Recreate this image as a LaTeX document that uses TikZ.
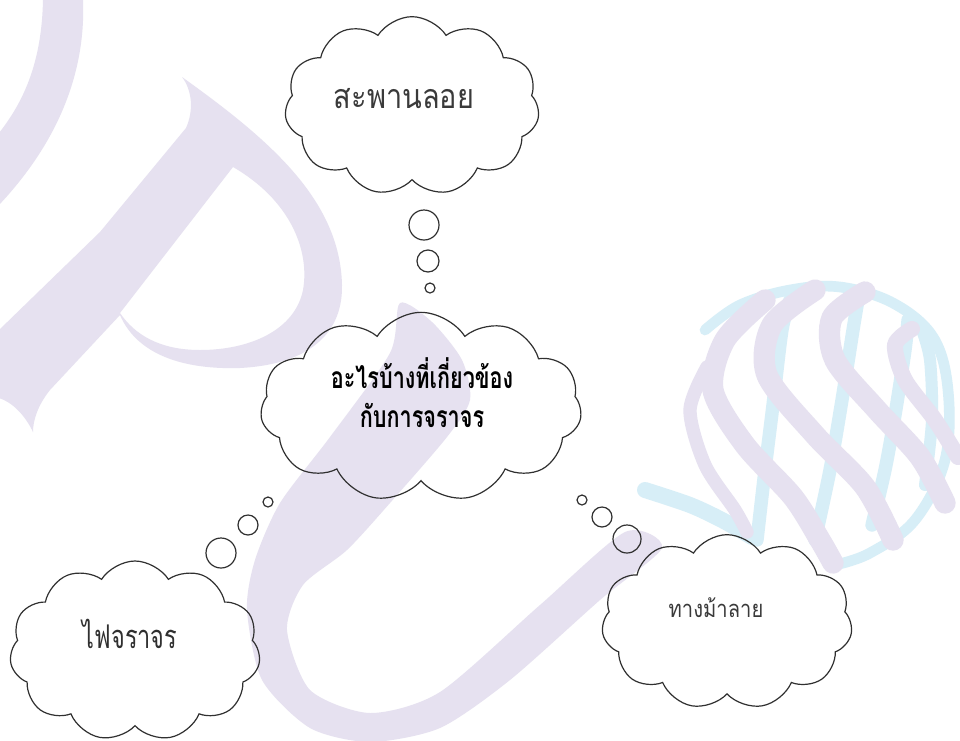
\documentclass[tikz,border=0pt]{standalone}
\usepackage{fontspec}
\usetikzlibrary{shapes.symbols}
\newfontfamily\thaiA[Script=Thai,FakeStretch=0.85]{Loma}
\newfontfamily\thaicond[Script=Thai,FakeStretch=0.72]{Loma}
\definecolor{wmL}{HTML}{E6E1F0}
\definecolor{wmC}{HTML}{D7EEF7}
\definecolor{ink}{HTML}{303030}
\definecolor{txtgrey}{HTML}{3A3A3A}
\begin{document}
\begin{tikzpicture}[x=0.75pt,y=-0.75pt,
  thought/.style={cloud, cloud puffs=11, cloud puff arc=115, draw=ink, line width=0.9pt, inner sep=0pt},
  bubble/.style={circle, draw=ink, line width=0.9pt, inner sep=0pt},
  lbl/.style={anchor=base, inner sep=0pt},
  ribL/.style={draw=wmL, line cap=round},
  ribC/.style={draw=wmC, line cap=round}]
\useasboundingbox (0,0) rectangle (960,740);
\fill[white] (0,0) rectangle (960,740);
% ---------- watermark ----------
\fill[wmL] (43,-1) -- (83,-1) .. controls (86,70) and (60,140) .. (-1,205) -- (-1,133) .. controls (25,100) and (42,60) .. (43,-1) -- cycle;
\fill[wmL, even odd rule]
  (182,77) .. controls (270,140) and (340,200) .. (342,285)
  .. controls (343,340) and (300,365) .. (240,368)
  .. controls (175,370) and (135,350) .. (120,315)
  -- (50,390) .. controls (38,405) and (33,420) .. (33,432)
  .. controls (25,415) and (12,402) .. (-1,398)
  -- (-1,330) -- (100,232) -- (186,128) .. controls (194,110) and (192,90) .. (182,77) -- cycle
  (233,167) .. controls (290,200) and (310,250) .. (303,290)
  .. controls (295,330) and (250,350) .. (200,350)
  .. controls (160,350) and (135,335) .. (120,313) -- cycle;
\fill[wmL] plot[smooth cycle, tension=0.45] coordinates {
  (400,303) (390,353) (330,437) (280,503) (255,560) (247,610) (262,680) (310,728)
  (370,742) (440,728) (510,680) (600,600) (662,548) (625,532) (540,605) (440,692)
  (370,713) (310,690) (287,630) (303,585) (347,550) (390,503) (447,437) (470,400)
  (462,360) (432,322)};
% sphere: cyan
\draw[ribC, line width=8pt] plot[smooth, tension=0.6] coordinates {(705,330) (740,305) (790,290) (840,287) (893,303) (933,337) (948,390) (945,460) (915,520) (870,553) (835,565)};
\draw[ribC, line width=12pt] plot[smooth] coordinates {(645,490) (690,505) (722,520) (752,537)};
\draw[ribC, line width=10pt] plot[smooth] coordinates {(757,540) (765,470) (773,405) (782,330) (790,300)};
\draw[ribC, line width=10pt] plot[smooth] coordinates {(815,540) (830,470) (842,400) (853,330) (858,300)};
\draw[ribC, line width=10pt] plot[smooth] coordinates {(872,525) (885,470) (895,415) (905,350) (908,320)};
\draw[ribC, line width=9pt] plot[smooth] coordinates {(925,485) (932,420) (930,360) (922,330)};
% sphere: lavender
\draw[ribL, line width=10pt] plot[smooth] coordinates {(707,367) (690,410) (705,465) (735,510) (747,532)};
\draw[ribL, line width=16pt] plot[smooth] coordinates {(765,300) (725,340) (713,390) (745,445) (793,497) (820,540) (833,563)};
\draw[ribL, line width=16pt] plot[smooth] coordinates {(815,290) (772,325) (767,375) (815,435) (865,487) (893,540)};
\draw[ribL, line width=16pt] plot[smooth] coordinates {(865,292) (832,318) (835,360) (877,410) (920,457) (945,503)};
\draw[ribL, line width=12pt] plot[smooth] coordinates {(912,329) (895,345) (905,380) (935,420) (958,457)};
% ---------- clouds ----------
\node[thought, minimum width=191pt, minimum height=134pt] (bridge) at (412,106) {};
\node[thought, minimum width=241pt, minimum height=142pt] (main) at (421,407) {};
\node[thought, minimum width=188pt, minimum height=135pt] (light) at (135,651) {};
\node[thought, minimum width=188pt, minimum height=131pt] (zebra) at (727,622) {};
% ---------- texts ----------
\node[lbl, text=txtgrey, font=\thaiA\fontsize{25.5pt}{30pt}\selectfont] (bridgeT) at (404,108) {สะพานลอย};
\node[lbl, text=black, font=\thaicond\bfseries\fontsize{22.5pt}{30pt}\selectfont] (mainA) at (422,388) {อะไรบ้างที่เกี่ยวข้อง};
\node[lbl, text=black, font=\thaicond\bfseries\fontsize{22.5pt}{30pt}\selectfont] (mainB) at (422,427) {กับการจราจร};
\node[lbl, text=ink, font=\thaicond\fontsize{24.5pt}{30pt}\selectfont] (lightT) at (130,648) {ไฟจราจร};
\node[lbl, text=txtgrey, font=\thaiA\fontsize{17.8pt}{22pt}\selectfont] (zebraT) at (716,617) {ทางม้าลาย};
% ---------- bubbles ----------
\node[bubble, minimum size=22.5pt] (t1) at (424,225) {};
\node[bubble, minimum size=16.5pt] (t2) at (428,261) {};
\node[bubble, minimum size=7.5pt] (t3) at (430,288) {};
\node[bubble, minimum size=7.5pt] (l3) at (268,502) {};
\node[bubble, minimum size=15pt] (l2) at (248,525) {};
\node[bubble, minimum size=22.5pt] (l1) at (221,553) {};
\node[bubble, minimum size=7.5pt] (r3) at (582,500) {};
\node[bubble, minimum size=15pt] (r2) at (602,517) {};
\node[bubble, minimum size=21pt] (r1) at (627,539) {};
\end{tikzpicture}
\end{document}
